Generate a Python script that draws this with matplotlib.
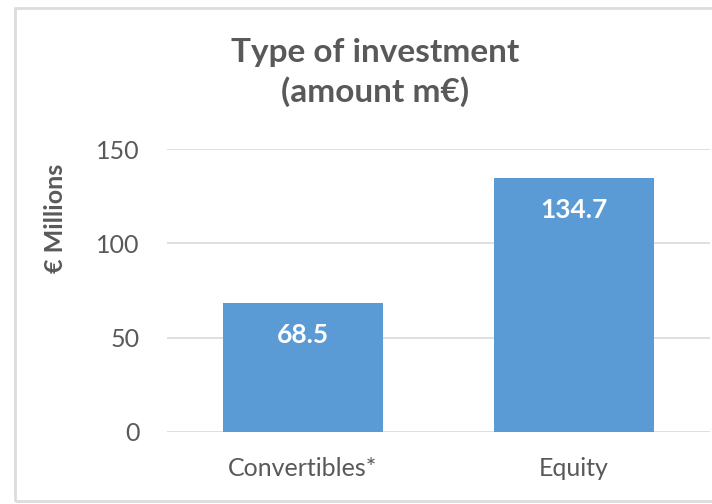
import matplotlib.pyplot as plt
from matplotlib.patches import Rectangle

categories = ['Convertibles*', 'Equity']
amounts = [68.5, 134.7]
labels = ['68.5', '134.7']
yticks = [0, 50, 100, 150]

plt.rcParams['font.family'] = ['Lato', 'DejaVu Sans']
grey = '#595959'

fig = plt.figure(figsize=(7.12, 5.04), dpi=100)
ax = fig.add_axes([0.2346, 0.1429, 0.7624, 0.5611])

# outer chart border (Excel style), right edge cut off
fig.patches.append(Rectangle((15 / 712, 3 / 504), 1.0, 493 / 504,
                             transform=fig.transFigure, fill=False,
                             edgecolor='#dcdcdc', linewidth=2))

x = range(len(categories))
bars = ax.bar(x, amounts, width=0.59, color='#5b9bd5', zorder=3)
ax.set_xlim(-0.5, 1.5)
ax.set_ylim(0, 150)
ax.set_yticks(yticks)
ax.set_xticks(list(x))
ax.set_xticklabels(categories)
ax.grid(axis='y', color='#d9d9d9', linewidth=1.2, zorder=0)
for s in ax.spines.values():
    s.set_visible(False)
ax.tick_params(length=0, colors=grey, labelsize=18)
ax.tick_params(axis='y', pad=20)
ax.tick_params(axis='x', pad=18)

for b, t in zip(bars, labels):
    ax.annotate(t, (b.get_x() + b.get_width() / 2, b.get_height()),
                xytext=(0, -23), textcoords='offset points',
                ha='center', va='center', color='white', fontsize=19,
                fontweight='bold')

ax.set_ylabel('€ Millions', color=grey, fontsize=18, labelpad=10,
              fontweight='bold')
ax.yaxis.set_label_coords(-0.185, 0.755)
fig.text(0.527, 0.856, 'Type of investment\n(amount m€)', ha='center',
         va='center', color=grey, fontsize=24, fontweight='bold',
         linespacing=1.35)

fig.savefig('out.png', dpi=100)
